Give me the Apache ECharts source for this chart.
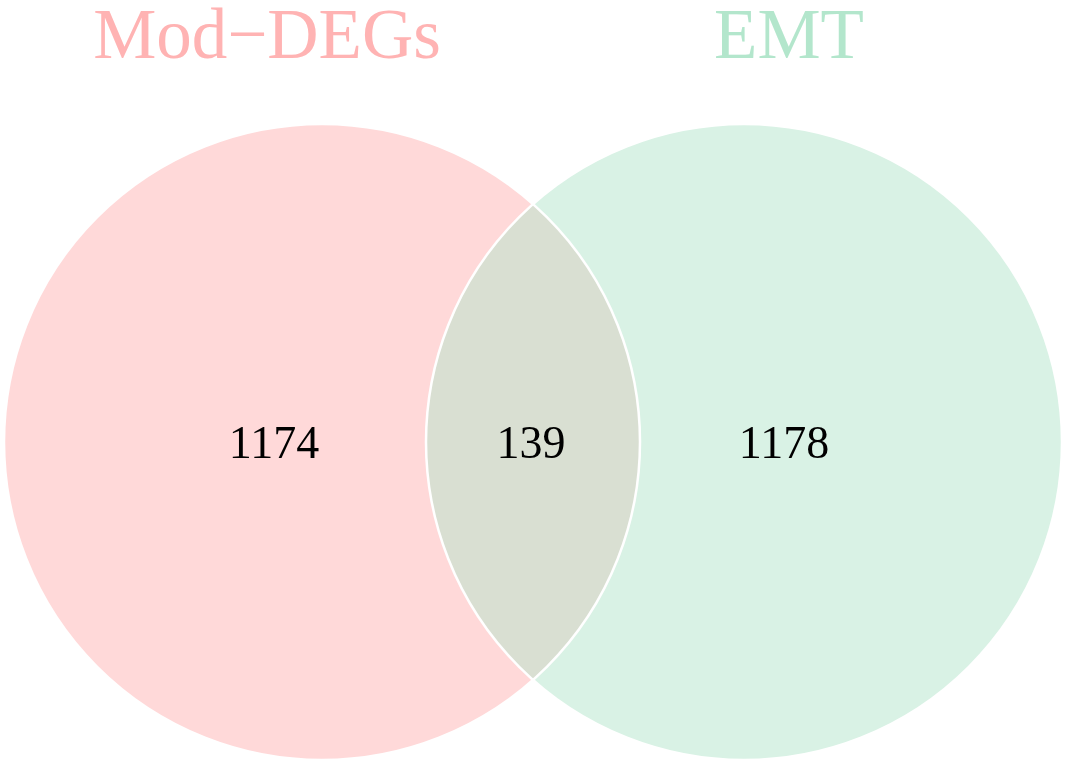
<!DOCTYPE html>
<html>
<head>
<meta charset="utf-8">
<script src="https://cdn.jsdelivr.net/npm/echarts@6/dist/echarts.min.js"></script>
<style>
html, body { margin: 0; padding: 0; background: #fff; }
#main { width: 1067px; height: 763px; }
</style>
</head>
<body>
<div id="main"></div>
<script>
// data
var setNames = ['Mod\u2212DEGs', 'EMT'];
var regionNames = ['Mod-DEGs only', 'both', 'EMT only'];
var regionCounts = [1174, 139, 1178];

// look
var setColors = ['#FFB3B3', '#B3E6CC'];

// layout, in chart units (x 0..1067, y 0..763 from the top)
var circleCenters = [[322, 442], [744, 442]];
var circleRadius = 318;
var titleAt = [[267, 39], [789, 39]];
var countAt = [[274, 446], [531, 446], [784, 446]];

var circleData = circleCenters.map(function (c, i) { return [c[0], c[1], i]; });
var titleData = titleAt.map(function (p, i) { return [p[0], p[1], i]; });
var countData = countAt.map(function (p, i) { return [p[0], p[1], i]; });

var chart = echarts.init(document.getElementById('main'));

function circleItem(filled) {
	return function (params, api) {
		var c = api.coord([api.value(0), api.value(1)]);
		var r = api.size([circleRadius, 0])[0];
		var i = api.value(2);
		return {
			type: 'circle',
			shape: { cx: c[0], cy: c[1], r: r },
			style: filled
				? { fill: echarts.color.modifyAlpha(setColors[i], 0.5), stroke: null }
				: { fill: 'none', stroke: '#ffffff', lineWidth: 2.5 }
		};
	};
}

function textItem(getText, getColor, size) {
	return function (params, api) {
		var p = api.coord([api.value(0), api.value(1)]);
		var i = api.value(2);
		return {
			type: 'text',
			x: p[0],
			y: p[1],
			style: {
				text: getText(i),
				fill: getColor(i),
				fontFamily: '"Liberation Serif", "DejaVu Serif", serif',
				fontSize: size,
				align: 'center',
				verticalAlign: 'middle'
			}
		};
	};
}

var option = {
	animation: false,
	backgroundColor: '#ffffff',
	grid: { left: 0, right: 0, top: 0, bottom: 0 },
	xAxis: { type: 'value', min: 0, max: 1067, show: false },
	yAxis: { type: 'value', min: 0, max: 763, inverse: true, show: false },
	series: [
		{ type: 'custom', name: 'fill', data: circleData, renderItem: circleItem(true), clip: false },
		{ type: 'custom', name: 'edge', data: circleData, renderItem: circleItem(false), clip: false },
		{
			type: 'custom', name: 'titles', data: titleData, clip: false,
			renderItem: textItem(function (i) { return setNames[i]; }, function (i) { return setColors[i]; }, 71)
		},
		{
			type: 'custom', name: 'counts', data: countData, clip: false,
			renderItem: textItem(function (i) { return String(regionCounts[i]); }, function () { return '#000000'; }, 46)
		}
	]
};

chart.setOption(option);
</script>
</body>
</html>
